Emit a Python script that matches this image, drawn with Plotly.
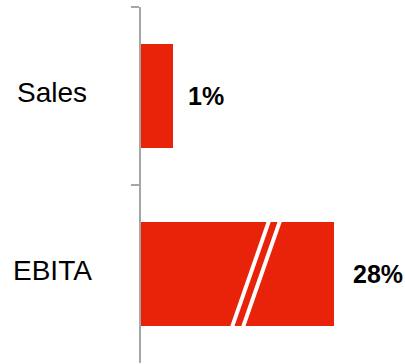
import plotly.graph_objects as go

# Data
categories = ["Sales", "EBITA"]
values = [1, 28]
value_labels = ["1%", "28%"]

# Broken value axis: the left segment shows 0..BREAK_FROM, the right one BREAK_TO onwards
BREAK_FROM = 3.59375
BREAK_TO = 25.5625

# Figure geometry
W, H = 405, 364
M_L, M_R, M_T, M_B = 141, 0, 7, 1
PX_PER_UNIT = 32.0
plot_w = W - M_L - M_R

left_px = BREAK_FROM * PX_PER_UNIT
split = left_px / plot_w
right_span = (plot_w - left_px) / PX_PER_UNIT
# left segment runs a few pixels under the right one so no seam shows
overlap_px = 3

RED = "#E8230A"
GREY = "#A6A6A6"
FONT = "Liberation Sans, Arial, sans-serif"
BARGAP = 0.415

fig = go.Figure()

# Left segment: all bars, the long one is clipped at the break
fig.add_trace(go.Bar(
    y=categories, x=values, orientation="h",
    marker=dict(color=RED, line=dict(width=0)),
    xaxis="x", yaxis="y", hoverinfo="skip",
))
# Right segment: remainder of bars that pass the break
long_cats = [c for c, v in zip(categories, values) if v > BREAK_FROM]
long_vals = [v for v in values if v > BREAK_FROM]
fig.add_trace(go.Bar(
    y=long_cats, x=long_vals, orientation="h",
    marker=dict(color=RED, line=dict(width=0)),
    xaxis="x2", yaxis="y", hoverinfo="skip",
))

annotations = []
# Category labels centred in the left margin
cat_x_px = 52
for c in categories:
    annotations.append(dict(
        x=(cat_x_px - M_L) / plot_w, xref="paper", y=c, yref="y",
        text=c, showarrow=False, xanchor="center", yanchor="middle",
        yshift=4,
        font=dict(family=FONT, size=28, color="#000000"),
    ))
# Value labels beside the bars
for c, v, t in zip(categories, values, value_labels):
    ref = "x" if v <= BREAK_FROM else "x2"
    annotations.append(dict(
        x=v, xref=ref, y=c, yref="y", text="<b>%s</b>" % t,
        showarrow=False, xanchor="left", yanchor="middle",
        xshift=13 if v <= BREAK_FROM else 17,
        font=dict(family=FONT, size=25, color="#000000"),
    ))

# White break marks across bars that pass the break
shapes = []
n = len(categories)
half = (1 - BARGAP) / 2
slant_px = 37  # horizontal run of each mark over the bar height
gap_px = 11
for i, (c, v) in enumerate(zip(categories, values)):
    if v <= BREAK_FROM:
        continue
    yc = (n - 0.5 - i) / n
    y0 = yc - half / n - 0.003
    y1 = yc + half / n + 0.003
    for off in (-gap_px / 2, gap_px / 2):
        cx = left_px + off
        shapes.append(dict(
            type="line", xref="paper", yref="paper",
            x0=(cx - slant_px / 2) / plot_w, y0=y0,
            x1=(cx + slant_px / 2) / plot_w, y1=y1,
            line=dict(color="white", width=4),
        ))

hidden = dict(visible=False, showgrid=False, zeroline=False, fixedrange=True)
fig.update_layout(
    width=W, height=H,
    margin=dict(l=M_L, r=M_R, t=M_T, b=M_B, pad=0),
    paper_bgcolor="white", plot_bgcolor="white",
    barmode="overlay", bargap=BARGAP, showlegend=False,
    xaxis=dict(domain=[0, split + overlap_px / plot_w],
               range=[0, BREAK_FROM + overlap_px / PX_PER_UNIT],
               anchor="y", **hidden),
    xaxis2=dict(domain=[split, 1], range=[BREAK_TO, BREAK_TO + right_span],
                anchor="y", **hidden),
    yaxis=dict(
        type="category", categoryorder="array", categoryarray=categories,
        range=[n - 0.5, -0.5], showline=True, linecolor=GREY, linewidth=2,
        ticks="outside", ticklen=8, tickwidth=2, tickcolor=GREY,
        tickson="boundaries", showticklabels=False, showgrid=False,
        zeroline=False, fixedrange=True,
    ),
    annotations=annotations, shapes=shapes,
)

fig.write_html("out.html", config={"displayModeBar": False})
